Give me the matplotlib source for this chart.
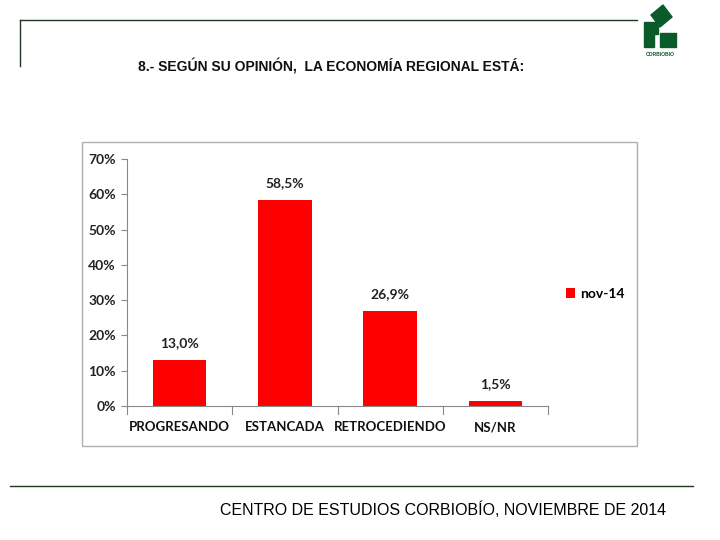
import matplotlib
matplotlib.use("Agg")
import matplotlib.pyplot as plt
from matplotlib.patches import Rectangle, Polygon
from matplotlib.lines import Line2D

# data
categories = ["PROGRESANDO", "ESTANCADA", "RETROCEDIENDO", "NS/NR"]
values = [13.0, 58.5, 26.9, 1.5]
series_name = "nov-14"
yticks = [0, 10, 20, 30, 40, 50, 60, 70]

title = "8.- SEGÚN SU OPINIÓN,  LA ECONOMÍA REGIONAL ESTÁ:"
footer = "CENTRO DE ESTUDIOS CORBIOBÍO, NOVIEMBRE DE 2014"

green = "#0b5a2a"
red = "#ff0000"

fig = plt.figure(figsize=(7.2, 5.4), dpi=100)
W, H = 720, 540


def fx(px):
    return px / W


def fy(py):
    return 1 - py / H


# header / footer lines
fig.add_artist(Line2D([fx(20), fx(637)], [fy(20), fy(20)], color="#1f3a22", lw=1))
fig.add_artist(Line2D([fx(20), fx(20)], [fy(20), fy(66)], color="#1f3a22", lw=1))
fig.add_artist(Line2D([fx(10), fx(693)], [fy(486), fy(486)], color="#1f3a22", lw=1))

# logo
fig.add_artist(Polygon([(fx(651), fy(15)), (fx(663), fy(5)), (fx(672), fy(17)), (fx(660), fy(27))],
                       closed=True, color=green, transform=fig.transFigure))
fig.add_artist(Rectangle((fx(644), fy(47)), fx(10), fy(22) - fy(47), color=green,
                         transform=fig.transFigure))
fig.add_artist(Rectangle((fx(654), fy(34)), fx(4), fy(22) - fy(34), color=green,
                         transform=fig.transFigure))
fig.add_artist(Rectangle((fx(660), fy(47)), fx(16), fy(33) - fy(47), color=green,
                         transform=fig.transFigure))
fig.text(fx(660), fy(54), "CORBIOBIO", fontsize=3.6, fontweight="bold", color=green,
         ha="center", va="center", family="Liberation Sans")

fig.text(fx(138), fy(66), title, fontsize=10, fontweight="bold", family="Liberation Sans",
         ha="left", va="center", color="#111111")
fig.text(fx(220), fy(510), footer, fontsize=11.5, family="Liberation Sans",
         ha="left", va="center", color="black")

# chart frame
fig.add_artist(Rectangle((fx(82), fy(446)), fx(637) - fx(82), fy(142) - fy(446),
                         fill=False, edgecolor="#b0b0b0", lw=1, transform=fig.transFigure))

ax = fig.add_axes([fx(127), fy(406), fx(548) - fx(127), fy(159) - fy(406)])
x = range(len(categories))
bars = ax.bar(x, values, width=0.51, color=red, label=series_name, zorder=2)
for b, v in zip(bars, values):
    ax.text(b.get_x() + b.get_width() / 2, v + 3.0, f"{v:.1f}%".replace(".", ","),
            ha="center", va="bottom", fontsize=10, fontweight="bold", family="Lato",
            color="#222222")

ax.set_xlim(-0.5, len(categories) - 0.5)
ax.set_ylim(0, 70)
ax.set_yticks(yticks)
ax.set_yticklabels([f"{t}%" for t in yticks], fontsize=10, fontweight="bold", family="Lato",
                   color="#222222")
ax.set_xticks(list(x))
ax.set_xticklabels(categories, fontsize=9.5, fontweight="bold", family="Lato", color="#111111")
ax.tick_params(axis="x", length=0, pad=11)
ax.tick_params(axis="y", length=4, direction="out", color="#888888", pad=4)
for b in [i - 0.5 for i in range(len(categories) + 1)]:
    ax.plot([b, b], [0, -2.2], color="#888888", lw=0.8, clip_on=False)
for s in ["top", "right"]:
    ax.spines[s].set_visible(False)
ax.spines["left"].set_color("#888888")
ax.spines["bottom"].set_color("#888888")

ax.legend(loc="center left", bbox_to_anchor=(1.03, 0.453), frameon=False, handlelength=0.6,
          handleheight=0.7, handletextpad=0.4, borderaxespad=0,
          prop={"family": "Lato", "weight": "bold", "size": 10})

fig.savefig("out.png", dpi=100)
